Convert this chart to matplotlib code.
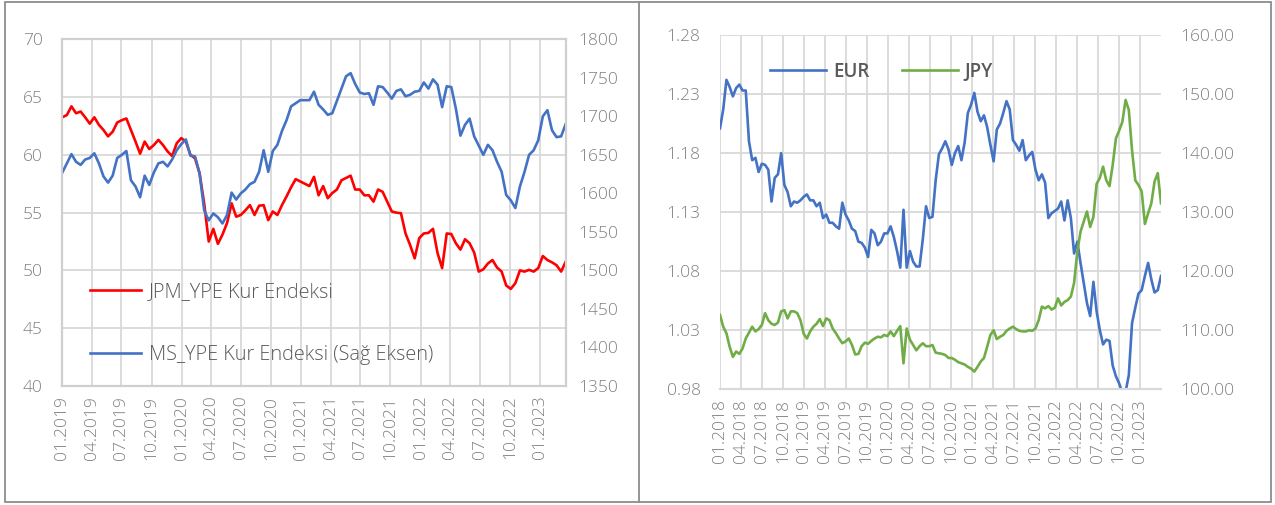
import pandas as pd
import matplotlib
matplotlib.use("Agg")
import matplotlib.pyplot as plt
from matplotlib.lines import Line2D
from matplotlib.patches import Rectangle
from matplotlib.ticker import FormatStrFormatter

# JPM and MS emerging-market currency indices (fortnightly, from 01.2019)
jpm_ype = [
    63.25, 63.45, 64.2, 63.6, 63.75, 63.25, 62.7, 63.25, 62.6, 62.15,
    61.6, 62.0, 62.8, 63.0, 63.15, 62.15, 61.15, 60.1, 61.15, 60.5,
    60.85, 61.3, 60.85, 60.3, 59.9, 61.0, 61.45, 61.15, 60.0, 59.7,
    58.4, 55.8, 52.5, 53.6, 52.3, 53.1, 54.1, 55.8, 54.65, 54.8,
    55.2, 55.65, 54.8, 55.6, 55.65, 54.35, 55.1, 54.8, 55.65, 56.4,
    57.2, 57.9, 57.7, 57.5, 57.3, 58.1, 56.5, 57.3, 56.25, 56.7,
    57.0, 57.8, 58.0, 58.2, 57.0, 57.0, 56.5, 56.5, 55.95, 57.0,
    56.8, 55.95, 55.1, 55.0, 54.95, 53.2, 52.2, 51.05, 52.8, 53.2,
    53.25, 53.6, 51.5, 50.2, 53.2, 53.15, 52.35, 51.8, 52.7, 52.35,
    51.55, 49.9, 50.1, 50.6, 50.9, 50.25, 49.9, 48.7, 48.4, 48.9,
    50.0, 49.9, 50.05, 49.9, 50.2, 51.25, 50.9, 50.7, 50.45, 49.9, 50.75,
]
ms_ype = [
    1627, 1639, 1651, 1641, 1637, 1644, 1646, 1652, 1639, 1622,
    1614, 1623, 1646, 1650, 1655, 1617, 1609, 1595, 1623, 1611,
    1627, 1639, 1641, 1635, 1644, 1656, 1664, 1670, 1649, 1648,
    1626, 1578, 1565, 1574, 1569, 1561, 1572, 1601, 1592, 1600,
    1605, 1612, 1615, 1628, 1656, 1628, 1655, 1663, 1681, 1695,
    1713, 1717, 1721, 1721, 1721, 1732, 1715, 1709, 1702, 1704,
    1720, 1736, 1752, 1756, 1742, 1731, 1729, 1730, 1715, 1739,
    1738, 1731, 1723, 1733, 1735, 1726, 1728, 1732, 1733, 1744,
    1736, 1748, 1741, 1712, 1739, 1738, 1710, 1675, 1689, 1697,
    1674, 1662, 1650, 1663, 1656, 1641, 1628, 1598, 1591, 1581,
    1609, 1628, 1650, 1656, 1669, 1700, 1708, 1682, 1673, 1674, 1690,
]

# EUR/USD and USD/JPY (fortnightly, from 01.2018)
eur = [
    1.201, 1.217, 1.242, 1.236, 1.228, 1.235, 1.238, 1.233, 1.233, 1.190,
    1.174, 1.176, 1.164, 1.171, 1.170, 1.166, 1.139, 1.159, 1.162, 1.180,
    1.153, 1.147, 1.135, 1.139, 1.138, 1.140, 1.143, 1.145, 1.140, 1.140,
    1.135, 1.138, 1.125, 1.128, 1.121, 1.121, 1.118, 1.116, 1.138, 1.128,
    1.123, 1.116, 1.114, 1.105, 1.104, 1.100, 1.092, 1.115, 1.112, 1.102,
    1.105, 1.112, 1.112, 1.118, 1.109, 1.097, 1.083, 1.132, 1.083, 1.097,
    1.088, 1.084, 1.084, 1.107, 1.135, 1.125, 1.126, 1.157, 1.179, 1.184,
    1.190, 1.183, 1.170, 1.180, 1.186, 1.174, 1.189, 1.214, 1.221, 1.231,
    1.215, 1.207, 1.212, 1.202, 1.187, 1.173, 1.200, 1.205, 1.214, 1.224,
    1.217, 1.191, 1.187, 1.182, 1.191, 1.174, 1.178, 1.181, 1.166, 1.157,
    1.162, 1.155, 1.125, 1.129, 1.131, 1.133, 1.139, 1.123, 1.140, 1.125,
    1.095, 1.105, 1.087, 1.070, 1.053, 1.042, 1.071, 1.046, 1.030, 1.018,
    1.022, 1.021, 1.000, 0.991, 0.985, 0.977, 0.978, 0.992, 1.036, 1.049,
    1.061, 1.064, 1.076, 1.087, 1.073, 1.062, 1.064, 1.076,
]
jpy = [
    112.6, 110.6, 109.5, 107.2, 105.5, 106.4, 106.0, 106.9, 108.6, 109.6,
    110.6, 109.8, 110.2, 110.9, 112.9, 111.7, 111.1, 110.9, 111.3, 113.2,
    113.4, 112.0, 113.2, 113.2, 112.9, 111.7, 109.4, 108.6, 109.8, 110.6,
    111.1, 111.9, 110.7, 112.0, 111.7, 110.3, 109.5, 108.6, 107.8, 108.1,
    108.6, 107.5, 105.9, 106.0, 107.3, 107.9, 107.7, 108.2, 108.6, 108.9,
    108.8, 109.2, 109.0, 109.8, 109.0, 109.9, 110.7, 104.4, 110.3, 108.4,
    107.5, 106.6, 107.3, 107.8, 107.3, 107.3, 107.5, 106.2, 106.1, 106.0,
    105.8, 105.3, 105.3, 105.0, 104.6, 104.4, 104.2, 103.8, 103.5, 103.0,
    103.8, 104.7, 105.3, 107.2, 109.2, 110.0, 108.5, 108.9, 109.2, 109.9,
    110.3, 110.6, 110.2, 109.9, 109.8, 109.8, 110.0, 109.9, 110.3, 111.7,
    114.0, 113.7, 114.1, 113.5, 113.8, 115.4, 114.2, 114.8, 115.1, 115.7,
    118.0, 123.3, 126.7, 128.4, 130.1, 127.5, 129.2, 134.8, 135.8, 137.7,
    135.4, 134.4, 138.0, 142.5, 143.8, 145.3, 149.0, 147.3, 140.5, 135.4,
    134.6, 133.5, 128.0, 129.8, 131.5, 135.2, 136.6, 131.5,
]

idx_dates = pd.date_range("2019-01-01", periods=len(jpm_ype), freq="14D")
fx_dates = pd.date_range("2018-01-01", periods=len(eur), freq="14D")
idx_ticks = pd.date_range("2019-01-01", "2023-01-01", freq="QS")
fx_ticks = pd.date_range("2018-01-01", "2023-01-01", freq="QS")

RED, BLUE, GREEN = "#FF0000", "#4472C4", "#70AD47"
GRID, TICK, TEXT = "#D9D9D9", "#808080", "#595959"
FONT = "Open Sans"

plt.rcParams["font.family"] = FONT

W, H = 1275, 505
fig = plt.figure(figsize=(W / 100, H / 100), dpi=100)


def box(x0, y0, x1, y1):
    return [x0 / W, 1 - y1 / H, (x1 - x0) / W, (y1 - y0) / H]


def style_axes(ax, twin, xticks, left_pad, right_pad):
    ax.set_xticks(xticks)
    ax.set_xticklabels([d.strftime("%m.%Y") for d in xticks], rotation=90)
    ax.grid(True, color=GRID, lw=1.3)
    ax.set_axisbelow(True)
    for a in (ax, twin):
        a.tick_params(length=0, labelsize=12.5, labelcolor=TICK)
        for lab in a.get_yticklabels() + a.get_xticklabels():
            lab.set_fontweight("light")
    ax.tick_params(axis="y", pad=left_pad)
    ax.tick_params(axis="x", pad=7)
    twin.tick_params(axis="y", pad=right_pad)


# ---- left panel: currency indices ----
axL = fig.add_axes(box(62.3, 39.3, 565.7, 386))
axL2 = axL.twinx()
l1, = axL.plot(idx_dates, jpm_ype, color=RED, lw=1.9, label="JPM_YPE Kur Endeksi")
l2, = axL2.plot(idx_dates, ms_ype, color=BLUE, lw=1.9,
                label="MS_YPE Kur Endeksi (Sağ Eksen)")
axL.set_xlim(idx_dates[0], idx_dates[-1])
axL.set_ylim(40, 70)
axL.set_yticks(range(40, 71, 5))
axL2.set_ylim(1350, 1800)
axL2.set_yticks(range(1350, 1801, 50))
style_axes(axL, axL2, idx_ticks, 14, 9)
for a in (axL, axL2):
    for s in a.spines.values():
        s.set_color("#CFCFCF")
        s.set_linewidth(1.5)
leg = axL2.legend(handles=[l1, l2], loc="center left",
                  bbox_to_anchor=(90 / W, 1 - 323.5 / H),
                  bbox_transform=fig.transFigure, frameon=False,
                  borderpad=0, borderaxespad=0, labelspacing=2.2,
                  handlelength=2.55, handletextpad=0.4,
                  prop={"family": FONT, "size": 14.3, "weight": "light"})
for t in leg.get_texts():
    t.set_color(TEXT)

# ---- right panel: EUR and JPY ----
axR = fig.add_axes(box(720, 35, 1161, 389.3))
axR2 = axR.twinx()
e1, = axR.plot(fx_dates, eur, color=BLUE, lw=1.9, label="EUR")
j1, = axR2.plot(fx_dates, jpy, color=GREEN, lw=1.9, label="JPY")
axR.set_xlim(fx_dates[0], fx_dates[-1])
axR.set_ylim(0.98, 1.28)
axR.set_yticks([0.98, 1.03, 1.08, 1.13, 1.18, 1.23, 1.28])
axR.yaxis.set_major_formatter(FormatStrFormatter("%.2f"))
axR2.set_ylim(100, 160)
axR2.set_yticks(range(100, 161, 10))
axR2.yaxis.set_major_formatter(FormatStrFormatter("%.2f"))
style_axes(axR, axR2, fx_ticks, 14, 14)
for a in (axR, axR2):
    for name, s in a.spines.items():
        s.set_visible(name == "bottom")
        s.set_color(GRID)
        s.set_linewidth(1.5)
leg2 = axR2.legend(handles=[e1, j1], loc="center left", ncol=2,
                   bbox_to_anchor=(770 / W, 1 - 72 / H),
                   bbox_transform=fig.transFigure, frameon=False,
                   borderpad=0, borderaxespad=0, handlelength=3.0,
                   handletextpad=0.35, columnspacing=1.75,
                   prop={"family": FONT, "size": 13.5, "weight": "semibold"})
for t in leg2.get_texts():
    t.set_color(TEXT)

# ---- panel frames ----
fig.add_artist(Rectangle((5 / W, 1 - 502 / H), (1271 - 5) / W, 500 / H,
                         transform=fig.transFigure, fill=False,
                         ec="#8C8C8C", lw=1.3))
fig.add_artist(Line2D([639 / W, 639 / W], [1 - 502 / H, 1 - 2 / H],
                      transform=fig.transFigure, color="#8C8C8C", lw=1.3))

fig.savefig("out.png", dpi=100)
